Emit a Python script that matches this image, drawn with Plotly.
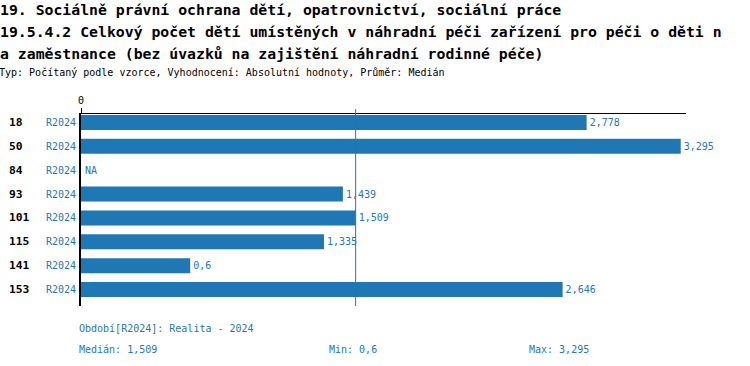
import numpy as np
import plotly.graph_objects as go

# ---- data ----
title_lines = [
    "19. Sociálně právní ochrana dětí, opatrovnictví, sociální práce",
    "19.5.4.2 Celkový počet dětí umístěných v náhradní péči zařízení pro péči o děti n",
    "a zaměstnance (bez úvazků na zajištění náhradní rodinné péče)",
]
subtitle = "Typ: Počítaný podle vzorce, Vyhodnocení: Absolutní hodnoty, Průměr: Medián"
categories = ["18", "50", "84", "93", "101", "115", "141", "153"]
period = "R2024"
period_label = "Období[R2024]: Realita - 2024"
values = [2.778, 3.295, None, 1.439, 1.509, 1.335, 0.6, 2.646]

BLUE = "#1f77b4"
MONO = "DejaVu Sans Mono"

W, H = 750, 366
L, R, T, B = 81, 64, 114, 60
PW = W - L - R
PH = H - T - B
PADX = 3  # annotation inner padding


def fmt(v):
    return "NA" if v is None else str(v).replace(".", ",")


def px_x(px):
    return (px - L) / PW


def px_y(py):
    return (H - B - py) / PH


valid = [v for v in values if v is not None]
median = float(np.median(valid))
vmin, vmax = min(valid), max(valid)

fig = go.Figure()
fig.add_trace(go.Bar(
    y=categories,
    x=values,
    orientation="h",
    marker=dict(color=BLUE, line=dict(width=0)),
    width=0.63,
    text=[fmt(v) if v is not None else "" for v in values],
    textposition="outside",
    textfont=dict(family=MONO, size=10, color=BLUE),
    cliponaxis=False,
    hoverinfo="skip",
))

ann = []
for i, line in enumerate(title_lines):
    ann.append(dict(text=line, x=px_x(1 - PADX), y=px_y(9.5 + 22 * i), xref="paper", yref="paper",
                    xanchor="left", yanchor="middle", showarrow=False,
                    font=dict(family=MONO, size=14.8, color="black", weight="bold")))
ann.append(dict(text=subtitle, x=px_x(0 - PADX), y=px_y(72), xref="paper", yref="paper",
                xanchor="left", yanchor="middle", showarrow=False,
                font=dict(family=MONO, size=10, color="black")))

for i, (c, v) in enumerate(zip(categories, values)):
    ann.append(dict(text=c, x=px_x(10 - PADX), y=i, xref="paper", yref="y",
                    xanchor="left", yanchor="middle", showarrow=False,
                    font=dict(family=MONO, size=11.3, color="black", weight="bold")))
    ann.append(dict(text=period, x=px_x(77.5), y=i, xref="paper", yref="y",
                    xanchor="right", yanchor="middle", showarrow=False,
                    font=dict(family=MONO, size=10, color=BLUE)))
    if v is None:
        ann.append(dict(text="NA", x=0, y=i, xref="x", yref="y", xshift=1.5,
                        xanchor="left", yanchor="middle", showarrow=False,
                        font=dict(family=MONO, size=10, color=BLUE)))

ann.append(dict(text=period_label, x=px_x(80 - PADX), y=px_y(328), xref="paper", yref="paper",
                xanchor="left", yanchor="middle", showarrow=False,
                font=dict(family=MONO, size=10, color=BLUE)))
for txt, xp in [(f"Medián: {fmt(median)}", 80), (f"Min: {fmt(vmin)}", 330), (f"Max: {fmt(vmax)}", 530)]:
    ann.append(dict(text=txt, x=px_x(xp - PADX), y=px_y(349), xref="paper", yref="paper",
                    xanchor="left", yanchor="middle", showarrow=False,
                    font=dict(family=MONO, size=10, color=BLUE)))

fig.add_shape(type="line", x0=median, x1=median, xref="x", yref="paper",
              y0=0, y1=1 + 5 / PH, line=dict(color=BLUE, width=1))

fig.update_layout(
    width=W, height=H,
    margin=dict(l=L, r=R, t=T, b=B, pad=0),
    paper_bgcolor="white", plot_bgcolor="white",
    showlegend=False,
    annotations=ann,
    xaxis=dict(side="top", range=[0, 3.324], tickvals=[0], ticktext=["0"],
               ticks="outside", ticklen=5, tickcolor="black", tickwidth=1,
               showline=True, linecolor="black", linewidth=1,
               showgrid=False, zeroline=False,
               tickfont=dict(family=MONO, size=10, color="black")),
    yaxis=dict(type="category", categoryorder="array", categoryarray=categories,
               range=[7.69, -0.356], showticklabels=False, ticks="",
               showline=True, linecolor="black", linewidth=2,
               showgrid=False, zeroline=False),
)

fig.write_html("out.html", config={"displayModeBar": False},
               post_script="document.body.style.margin='0';")
